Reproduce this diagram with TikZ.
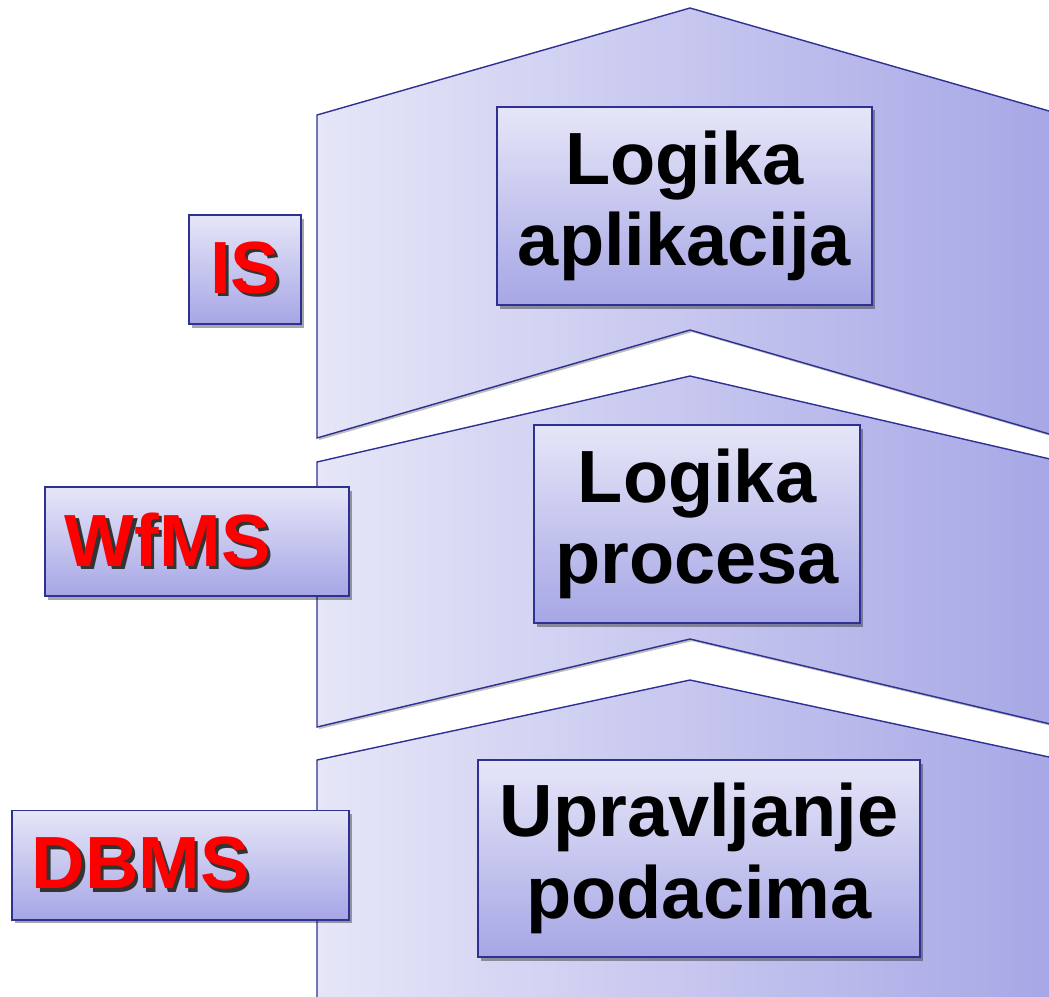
\documentclass[tikz,border=0pt]{standalone}
\usepackage{fontspec}
\setmainfont{Liberation Sans}
\usepackage{tikz}
\usetikzlibrary{shadows}

\definecolor{edgeblue}{RGB}{46,49,146}
\definecolor{lightlav}{RGB}{230,230,248}
\definecolor{darklav}{RGB}{166,166,230}
\newcommand{\redtag}[1]{\rlap{\hspace{2.2pt}\raisebox{-2.2pt}{\textcolor{black!80}{#1}}}\textcolor{red}{#1}}

\begin{document}
\begin{tikzpicture}[
    x=0.025cm, y=-0.025cm,
    layer/.style={draw=edgeblue, line width=1pt, left color=lightlav, right color=darklav,
      drop shadow={shadow xshift=1.5pt, shadow yshift=-1.5pt, opacity=0.25, fill=black}},
    logicbox/.style={draw=edgeblue, line width=1.4pt, top color=lightlav, bottom color=darklav,
      align=center, inner sep=0pt, font=\bfseries\fontsize{52.6}{58}\selectfont,
      drop shadow={shadow xshift=2pt, shadow yshift=-2.5pt, opacity=0.35, fill=black}},
    tagbox/.style={logicbox, minimum height=2.725cm}
    ]

    \useasboundingbox (0,0) rectangle (1049,996);
    \clip (0,0) rectangle (1049,996);

    \path[layer] (317,438) -- (317,115) -- (690,8) -- (1063,115) -- (1063,438) -- (690,330) -- cycle;
    \path[layer] (317,727) -- (317,462) -- (690,376) -- (1063,462) -- (1063,727) -- (690,639) -- cycle;
    \path[layer] (317,1010) -- (317,760) -- (690,680) -- (1063,760) -- (1063,1010) -- cycle;

    \node[logicbox, minimum width=9.375cm, minimum height=4.95cm] (app) at (684.5,206) {Logika\\aplikacija};
    \node[logicbox, minimum width=8.15cm, minimum height=4.95cm] (proc) at (697,524) {Logika\\procesa};
    \node[logicbox, minimum width=11.05cm, minimum height=4.925cm] (data) at (699,858.5) {Upravljanje\\podacima};

    \node[tagbox, minimum width=2.8cm] (is) at (245,269.5) {\redtag{IS}};
    \node[tagbox, text width=6.6cm, inner xsep=0.5cm, align=left] (wfms) at (197,541.5) {\redtag{WfMS}};
    \node[tagbox, text width=7.425cm, inner xsep=0.5cm, align=left] (dbms) at (180.5,865) {\redtag{DBMS}};

  \end{tikzpicture}
\end{document}
